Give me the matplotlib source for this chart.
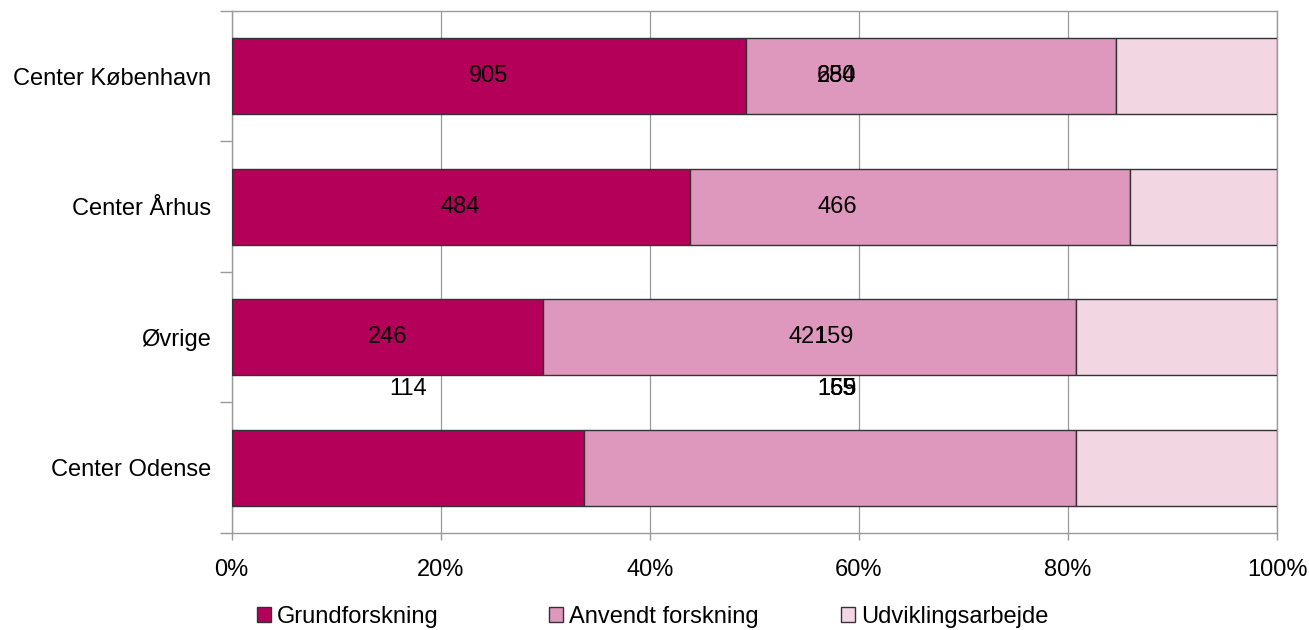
import matplotlib
matplotlib.use("Agg")
import matplotlib.pyplot as plt
from matplotlib.patches import Patch
from matplotlib.ticker import FixedLocator, PercentFormatter

plt.rcParams["font.family"] = ["Liberation Sans", "DejaVu Sans"]

# categories, top -> bottom
centers = ["Center København", "Center Århus", "Øvrige", "Center Odense"]
series = ["Grundforskning", "Anvendt forskning", "Udviklingsarbejde"]
grund = [905, 484, 246, 114]
anvendt = [650, 466, 421, 159]
udvikling = [284, 155, 159, 65]

COLORS = ["#B5005A", "#DE98BD", "#F2D7E3"]
EDGE = "#333333"
GRID = "#9a9a9a"
FS = 17

fig = plt.figure(figsize=(13.09, 6.3), dpi=100)
ax = fig.add_axes([0.177, 0.154, 0.7986, 0.8286])

n = len(centers)
y = list(range(n))[::-1]
tot = [g + a + u for g, a, u in zip(grund, anvendt, udvikling)]
fr = [[v / t for v, t in zip(vals, tot)] for vals in (grund, anvendt, udvikling)]

left = [0.0] * n
for vals, col in zip(fr, COLORS):
    ax.barh(y, vals, left=left, height=0.585, color=col, edgecolor=EDGE,
            lw=1.0, zorder=3)
    left = [l + v for l, v in zip(left, vals)]

# value labels (placed as in the original export, overlaps included)
lab_y = {i: y[i] for i in range(n)}
lab_y[3] = y[3] + 0.6          # Odense labels sit in the gap above its bar
for i in range(n):
    ax.text(fr[0][i] / 2, lab_y[i], str(grund[i]), ha="center", va="center",
            fontsize=FS, zorder=5)
for i in range(n):
    xa = 0.551 if i == 2 else 0.579
    ax.text(xa, lab_y[i], str(anvendt[i]), ha="center", va="center",
            fontsize=FS, zorder=5)
for i in range(n):
    xu = {2: 0.576, 3: 0.585}.get(i, 0.579)
    yu = lab_y[3] if i == 1 else lab_y[i]
    ax.text(xu, yu, str(udvikling[i]), ha="center", va="center",
            fontsize=FS, zorder=5)

ax.set_xlim(0, 1)
ax.set_ylim(-0.5, n - 0.5)
ax.set_xticks([0, 0.2, 0.4, 0.6, 0.8, 1.0])
ax.xaxis.set_major_formatter(PercentFormatter(1.0, decimals=0))
ax.set_yticks(y)
ax.set_yticklabels(centers)
ax.yaxis.set_minor_locator(FixedLocator([k - 0.5 for k in range(n + 1)]))
ax.tick_params(axis="y", which="major", length=0, pad=15, labelsize=FS)
ax.tick_params(axis="y", which="minor", length=9, color=GRID, width=1)
ax.tick_params(axis="x", length=5, color=GRID, width=1, pad=14, labelsize=FS)
ax.grid(axis="x", color=GRID, lw=0.9, zorder=0)
ax.set_axisbelow(True)
for s in ax.spines.values():
    s.set_color(GRID)
    s.set_linewidth(1.0)

# legend: three evenly spaced entries along the bottom
for k, (c, l) in enumerate(zip(COLORS, series)):
    h = Patch(facecolor=c, edgecolor=EDGE, lw=1.0, label=l)
    fig.legend(handles=[h], loc="center left",
               bbox_to_anchor=(0.196 + k * 0.2232, 0.021), frameon=False,
               fontsize=FS, handlelength=0.6, handleheight=0.6,
               handletextpad=0.25, borderpad=0, borderaxespad=0)

fig.savefig("out.png", dpi=100)
